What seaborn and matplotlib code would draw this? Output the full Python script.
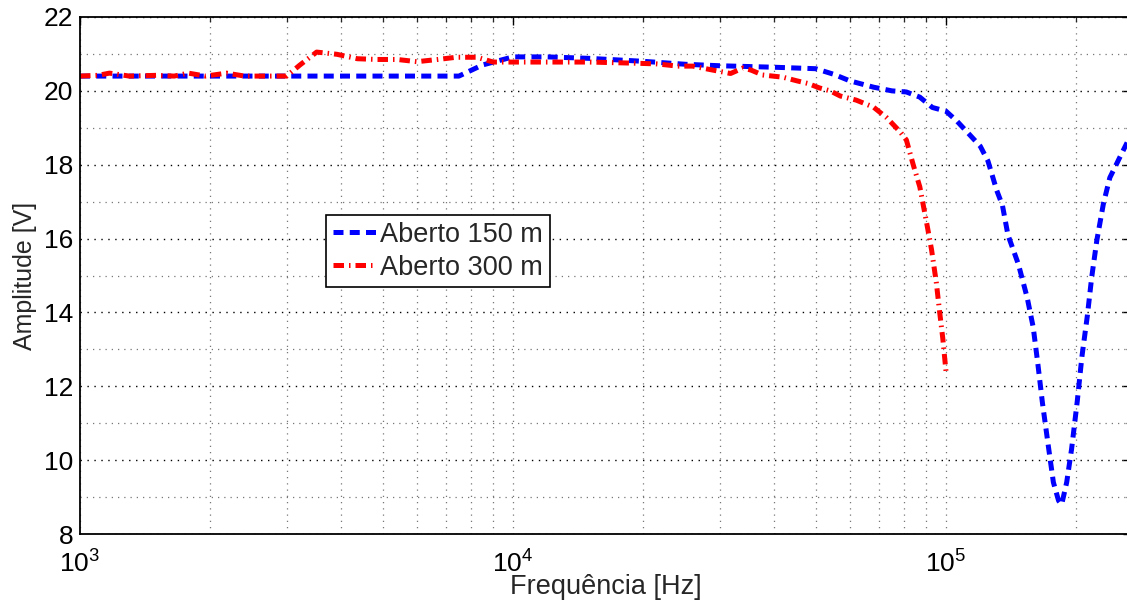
import numpy as np
import pandas as pd
import matplotlib
matplotlib.use("Agg")
import matplotlib.pyplot as plt
import matplotlib.ticker as mticker
from matplotlib.lines import Line2D
import seaborn as sns

# ---- data ----
freq_150 = [1000, 1500, 2000, 3000, 4000, 5000, 6000, 7500, 8500, 10000,
            12000, 15000, 20000, 25000, 30000, 40000, 50000, 55000, 60000, 68000,
            75000, 81000, 87000, 93000, 100000, 106000, 112000, 120000, 125000, 131000,
            135000, 139000, 147000, 154000, 159000, 163000, 167000, 172000, 177000, 182000,
            185000, 190000, 195000, 201000, 206000, 212000, 217000, 223000, 231000, 239000,
            252000, 262000]
amp_150 = [20.4, 20.4, 20.4, 20.4, 20.4, 20.4, 20.4, 20.4, 20.7, 20.92,
           20.92, 20.88, 20.8, 20.72, 20.68, 20.64, 20.6, 20.45, 20.27, 20.1,
           20.0, 19.97, 19.83, 19.55, 19.45, 19.18, 18.88, 18.5, 18.1, 17.3,
           16.9, 16.1, 15.3, 14.4, 13.6, 12.6, 11.55, 10.45, 9.4, 8.9,
           8.8, 9.4, 10.3, 11.6, 12.8, 13.9, 14.95, 15.95, 16.95, 17.65,
           18.2, 18.6]

freq_300 = [1000, 1100, 1170, 1300, 1500, 1650, 1780, 1950, 2180, 2400,
            2700, 3000, 3220, 3520, 3920, 4370, 4850, 5400, 6000, 6700,
            7400, 8250, 9000, 10000, 12000, 15000, 19000, 21500, 24000, 26000,
            29000, 31800, 34000, 35500, 37700, 42000, 45300, 48000, 51000, 54000,
            57000, 62000, 68000, 73000, 78500, 81000, 84000, 87000, 90300, 92600,
            95000, 96700, 98300, 100000]
amp_300 = [20.4, 20.42, 20.48, 20.4, 20.42, 20.4, 20.48, 20.4, 20.48, 20.4,
           20.4, 20.4, 20.7, 21.05, 20.99, 20.87, 20.85, 20.85, 20.79, 20.85,
           20.91, 20.91, 20.78, 20.78, 20.78, 20.78, 20.75, 20.73, 20.67, 20.67,
           20.56, 20.47, 20.62, 20.56, 20.43, 20.37, 20.27, 20.2, 20.08, 20.0,
           19.86, 19.75, 19.56, 19.27, 18.88, 18.67, 18.0, 17.4, 16.4, 15.7,
           14.8, 14.0, 13.3, 12.4]

labels = ["Aberto 150 m", "Aberto 300 m"]
y_ticks = [8, 10, 12, 14, 16, 18, 20, 22]

sns.set_style("white")
plt.rcParams["font.family"] = ["Liberation Sans", "DejaVu Sans"]
plt.rcParams["mathtext.default"] = "regular"

fig = plt.figure(figsize=(11.27, 6.04), dpi=100)
W, H = 1127, 604
left_px, right_px, top_px, bot_px = 80, 1131, 17, 534
ax = fig.add_axes([left_px / W, 1 - bot_px / H, (right_px - left_px) / W, (bot_px - top_px) / H])

df150 = pd.DataFrame({"f": freq_150, "v": amp_150})
df300 = pd.DataFrame({"f": freq_300, "v": amp_300})

lw = 3.6
sns.lineplot(data=df150, x="f", y="v", ax=ax, color="#0000ff", lw=lw, sort=False)
sns.lineplot(data=df300, x="f", y="v", ax=ax, color="#ff0000", lw=lw, sort=False)
l1, l2 = ax.get_lines()[0], ax.get_lines()[1]
d1 = (2.0, 1.25)
d2 = (2.1, 1.0, 0.3, 1.0)
l1.set_dashes(d1)
l2.set_dashes(d2)

ax.set_xscale("log")
ax.set_xlim(1e3, 10 ** (3 + (right_px - left_px) / 433.0))
ax.set_ylim(8, 22)
ax.set_yticks(y_ticks)
ax.yaxis.set_minor_locator(mticker.MultipleLocator(1))
ax.xaxis.set_major_locator(mticker.LogLocator(base=10, numticks=10))
ax.xaxis.set_minor_locator(mticker.LogLocator(base=10, subs=np.arange(2, 10), numticks=20))
ax.xaxis.set_minor_formatter(mticker.NullFormatter())
ax.xaxis.set_major_formatter(mticker.FuncFormatter(lambda v, p: r"$\mathregular{10^{%d}}$" % int(round(np.log10(v)))))

# grid
ax.grid(which="major", axis="y", color="black", linestyle=(0, (1, 4)), lw=1.0)
ax.grid(which="minor", axis="y", color="#777777", linestyle=(0, (1, 4)), lw=0.9)
ax.grid(which="both", axis="x", color="#777777", linestyle=(0, (1, 4)), lw=0.9)

for s in ax.spines.values():
    s.set_color("black")
    s.set_linewidth(1.3)

ax.tick_params(which="major", direction="in", length=6, width=1.0, top=True, right=True,
               labelsize=19, colors="black", pad=5)
ax.tick_params(which="minor", direction="in", length=3.5, width=0.9, top=True, right=True)
ax.tick_params(axis="x", which="major", pad=12)

ax.set_xlabel("Frequência [Hz]", fontsize=19.5, labelpad=-3)
ax.set_ylabel("Amplitude [V]", fontsize=18, labelpad=5)

handles = [Line2D([0], [0], color="#0000ff", lw=lw, dashes=d1),
           Line2D([0], [0], color="#ff0000", lw=lw, dashes=d2)]
leg = ax.legend(handles, labels, loc="upper left", bbox_to_anchor=(0.234, 0.617),
                fontsize=19.5, frameon=True, fancybox=False, edgecolor="black",
                handlelength=1.6, handletextpad=0.15, borderpad=0.25, labelspacing=0.25,
                borderaxespad=0)
leg.get_frame().set_linewidth(1.2)
leg.get_frame().set_alpha(1)

fig.savefig("out.png", dpi=100)
